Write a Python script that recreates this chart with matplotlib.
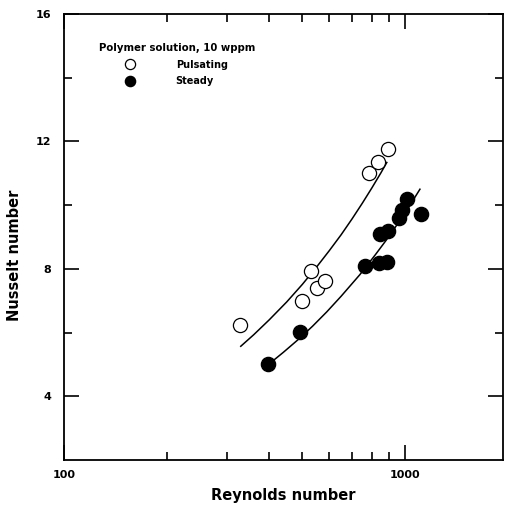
import matplotlib
matplotlib.use("Agg")
import matplotlib.pyplot as plt
from matplotlib.ticker import NullFormatter

plt.rcParams['font.family'] = ['DejaVu Sans']
plt.rcParams['font.weight'] = 'bold'

# pulsating flow (open circles)
re_puls = [328, 498, 532, 551, 582, 786, 833, 891]
nu_puls = [6.24, 7.0, 7.94, 7.4, 7.62, 11.02, 11.35, 11.75]

# steady flow (filled circles)
re_steady = [398, 494, 762, 837, 885, 847, 890, 960, 980, 1014, 1112]
nu_steady = [5.0, 6.02, 8.1, 8.19, 8.2, 9.1, 9.2, 9.6, 9.85, 10.2, 9.73]

# correlation curves
re_curve_puls = [330, 360, 400, 450, 500, 550, 600, 650, 700, 750, 800, 850, 885]
nu_curve_puls = [5.57, 5.93, 6.40, 6.96, 7.51, 8.05, 8.57, 9.07, 9.57, 10.06,
                 10.54, 11.01, 11.34]
re_curve_steady = [398, 440, 490, 536, 590, 650, 738, 820, 900, 946, 1020, 1107]
nu_curve_steady = [5.0, 5.38, 5.81, 6.20, 6.65, 7.14, 7.82, 8.45, 9.03, 9.37,
                   9.89, 10.5]

x_ticks = [100, 1000]
x_minor = [200, 300, 400, 500, 600, 700, 800, 900]
y_ticks = [4, 8, 12, 16]
y_minor = [6, 10, 14]

fig = plt.figure(figsize=(5.06, 5.13), dpi=100)
ax = fig.add_axes([64/506, 1-460/513, (503-64)/506, (460-14)/513])

ax.plot(re_curve_puls, nu_curve_puls, color='black', lw=1.1)
ax.plot(re_curve_steady, nu_curve_steady, color='black', lw=1.1)
ax.plot(re_puls, nu_puls, 'o', mfc='white', mec='black', mew=0.9, ms=10.2,
        label='Pulsating')
ax.plot(re_steady, nu_steady, 'o', color='black', ms=10.2, label='Steady')

ax.set_xscale('log')
ax.set_xlim(100, 1940)
ax.set_ylim(2, 16)
ax.set_xticks(x_ticks, [str(v) for v in x_ticks])
ax.set_xticks(x_minor, minor=True)
ax.xaxis.set_minor_formatter(NullFormatter())
ax.set_yticks(y_ticks, [str(v) for v in y_ticks])
ax.set_yticks(y_minor, minor=True)

ax.tick_params(which='both', direction='in', top=True, right=True,
               width=1.2, labelsize=8)
ax.tick_params(which='major', length=11)
ax.tick_params(which='minor', length=5.5)
ax.tick_params(axis='y', pad=9)
ax.tick_params(axis='x', pad=7)
for s in ax.spines.values():
    s.set_linewidth(1.3)

ax.set_xlabel('Reynolds number', fontsize=10.5, fontweight='bold', labelpad=6)
ax.set_ylabel('Nusselt number', fontsize=10.5, fontweight='bold')
ax.yaxis.set_label_coords(-0.095, 0.46)

leg = ax.legend(loc='upper left', bbox_to_anchor=(0.075, 0.94),
                title='Polymer solution, 10 wppm', frameon=False,
                fontsize=7, title_fontsize=7.3, alignment='left',
                handlelength=6.4, handletextpad=1.5, labelspacing=0.7,
                markerscale=0.72, borderpad=0.2, borderaxespad=0)
leg.get_title().set_fontweight('bold')

fig.savefig('out.png', dpi=100)
